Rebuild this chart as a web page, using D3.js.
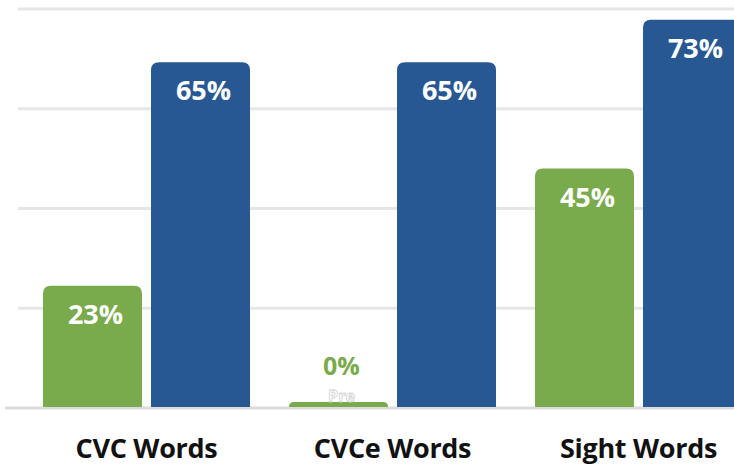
<!DOCTYPE html>
<html>
<head>
<meta charset="utf-8">
<script src="https://cdn.jsdelivr.net/npm/d3@7"></script>
<style>
  body { margin: 0; background: #fff; }
  svg { display: block; }
  .cat { font-family: "Open Sans", sans-serif; font-weight: 700; font-size: 27px; fill: #111; letter-spacing: -0.3px; }
  .val { font-family: "Open Sans", sans-serif; font-weight: 700; font-size: 27px; }
  .zero { font-size: 25px; }
  .ghost { font-family: "Open Sans", sans-serif; font-weight: 700; font-size: 16px; }
</style>
</head>
<body>
<div id="chart"></div>
<script>
var categories = ["CVC Words", "CVCe Words", "Sight Words"];
var seriesNames = ["Pre", "Post"];
var preValues = [23, 0, 45];
var postValues = [65, 65, 73];
var gridTicks = [0, 18.75, 37.5, 56.25, 75];

var colors = { Pre: "#79aa4b", Post: "#275891" };

var draw = function(){
	var svg = d3.select("#chart").append("svg").attr("width", 734).attr("height", 465);

	var y = d3.scaleLinear().domain([0, 75]).range([408, 9]);
	var x0 = d3.scaleBand().domain(categories).range([23.5, 761.5])
		.paddingInner(39/246).paddingOuter(39/492);
	var x1 = d3.scaleBand().domain(seriesNames).range([0, x0.bandwidth()]).paddingInner(9/108);

	// grid
	svg.append("g").selectAll("line").data(gridTicks).enter()
		.append("line")
		.attr("x1", function(d){ return d === 0 ? 5 : 18; })
		.attr("x2", 734)
		.attr("y1", function(d){ return y(d); })
		.attr("y2", function(d){ return y(d); })
		.attr("stroke", function(d){ return d === 0 ? "#dcdcdc" : "#e6e6e6"; })
		.attr("stroke-width", 3);

	var rows = categories.map(function(c, i){
		return [{cat: c, key: "Pre", v: preValues[i]}, {cat: c, key: "Post", v: postValues[i]}];
	});

	// bar with rounded top corners
	var barPath = function(x, top, w, bottom){
		var r = Math.min(8, (bottom - top));
		return "M" + x + "," + bottom +
			"V" + (top + r) +
			"Q" + x + "," + top + " " + (x + r) + "," + top +
			"H" + (x + w - r) +
			"Q" + (x + w) + "," + top + " " + (x + w) + "," + (top + r) +
			"V" + bottom + "Z";
	};

	var groups = svg.append("g").selectAll("g").data(rows).enter()
		.append("g").attr("transform", function(d){ return "translate(" + x0(d[0].cat) + ",0)"; });

	groups.selectAll("path").data(function(d){ return d; }).enter()
		.append("path")
		.attr("fill", function(d){ return colors[d.key]; })
		.attr("d", function(d){
			var top = Math.min(y(d.v), y(0) - 6);
			return barPath(x1(d.key), top, x1.bandwidth(), y(0) - 1);
		});

	groups.selectAll("text.val").data(function(d){ return d; }).enter()
		.append("text").attr("class", function(d){ return d.v > 0 ? "val" : "val zero"; })
		.attr("text-anchor", "middle")
		.attr("x", function(d){ return x1(d.key) + x1.bandwidth()/2 + 3; })
		.attr("y", function(d){ return d.v > 0 ? y(d.v) + 38 : y(0) - 33; })
		.attr("fill", function(d){ return d.v > 0 ? "#fff" : colors[d.key]; })
		.text(function(d){ return d.v + "%"; });

	// faint series label left over under the 0% mark
	groups.filter(function(d){ return d[0].v === 0; })
		.append("text").attr("class", "ghost")
		.attr("text-anchor", "middle")
		.attr("x", function(d){ return x1("Pre") + x1.bandwidth()/2 + 3; })
		.attr("y", y(0) - 6)
		.attr("fill", "#fff").attr("stroke", "#cfcfcf").attr("stroke-width", 0.8)
		.text("Pre");

	svg.append("g").selectAll("text.cat").data(categories).enter()
		.append("text").attr("class", "cat")
		.attr("text-anchor", "middle")
		.attr("x", function(d){ return x0(d) + x0.bandwidth()/2; })
		.attr("y", 458)
		.text(function(d){ return d; });
};

window.onload = draw;
</script>
</body>
</html>
